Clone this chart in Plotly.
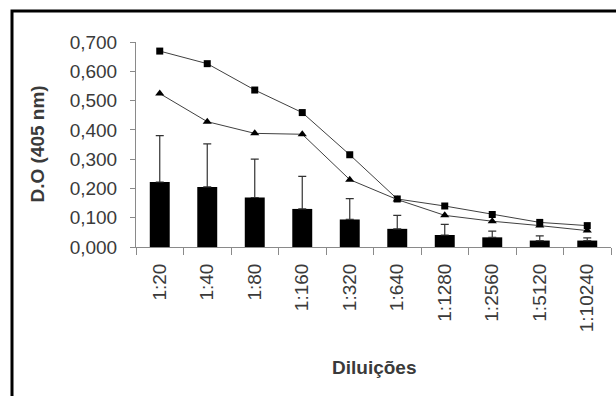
import plotly.graph_objects as go

categories = ["1:20", "1:40", "1:80", "1:160", "1:320", "1:640", "1:1280", "1:2560", "1:5120", "1:10240"]
bar_values = [0.222, 0.205, 0.169, 0.130, 0.094, 0.062, 0.041, 0.033, 0.022, 0.022]
bar_err_top = [0.380, 0.352, 0.300, 0.241, 0.165, 0.108, 0.077, 0.054, 0.038, 0.031]
square_values = [0.669, 0.626, 0.536, 0.459, 0.315, 0.164, 0.140, 0.111, 0.084, 0.073]
triangle_values = [0.524, 0.428, 0.388, 0.385, 0.230, 0.162, 0.108, 0.088, 0.073, 0.056]
y_ticks = [0.0, 0.1, 0.2, 0.3, 0.4, 0.5, 0.6, 0.7]

err_plus = [t - v for t, v in zip(bar_err_top, bar_values)]

FONT = "Liberation Sans, Arial, sans-serif"
TXT = "#3a3a3a"
AX = "#8a8a8a"

fig = go.Figure()
fig.add_trace(go.Bar(
    x=categories, y=bar_values, width=0.42,
    marker=dict(color="black", line=dict(width=0)),
    error_y=dict(type="data", symmetric=False, array=err_plus,
                 arrayminus=[0] * len(err_plus), color="#333333",
                 thickness=1.2, width=4),
    showlegend=False,
))
fig.add_trace(go.Scatter(
    x=categories, y=square_values, mode="lines+markers",
    line=dict(color="#404040", width=1),
    marker=dict(symbol="square", size=7, color="black"),
    showlegend=False,
))
fig.add_trace(go.Scatter(
    x=categories, y=triangle_values, mode="lines+markers",
    line=dict(color="#404040", width=1),
    marker=dict(symbol="triangle-up", size=8, color="black"),
    showlegend=False,
))

fig.update_layout(
    width=616, height=396,
    margin=dict(l=136, r=5, t=42, b=149),
    paper_bgcolor="white", plot_bgcolor="white",
    separators=",.",
    font=dict(family=FONT, color=TXT, size=19),
    xaxis=dict(
        type="category", range=[-0.5, 9.5],
        showline=True, linecolor=AX, linewidth=1,
        ticks="outside", tickson="boundaries", ticklen=7, tickcolor=AX,
        tickangle=-90, tickfont=dict(size=19, color=TXT, family=FONT),
        ticklabelstandoff=8,
        showgrid=False, zeroline=False,
    ),
    yaxis=dict(
        range=[0, 0.7], tickvals=y_ticks, tickformat=".3f",
        showline=True, linecolor=AX, linewidth=1,
        ticks="outside", ticklen=5, tickcolor=AX,
        tickfont=dict(size=19, color=TXT, family=FONT),
        ticklabelstandoff=9,
        showgrid=False, zeroline=False,
    ),
    annotations=[
        dict(text="<b>Diluições</b>", xref="paper", yref="paper",
             x=0.5, y=(247 - 367) / 205, xanchor="center", yanchor="middle",
             showarrow=False, font=dict(size=19, color=TXT, family=FONT)),
        dict(text="<b>D.O (405 nm)</b>", xref="paper", yref="paper",
             x=(37 - 136) / 475, y=0.5, xanchor="center", yanchor="middle",
             textangle=-90, showarrow=False,
             font=dict(size=19, color=TXT, family=FONT)),
    ],
    shapes=[
        dict(type="rect", xref="paper", yref="paper",
             x0=(12 - 136) / 475, x1=(630 - 136) / 475,
             y0=(247 - 420) / 205, y1=(247 - 11) / 205,
             line=dict(color="black", width=3), fillcolor="rgba(0,0,0,0)",
             layer="below"),
    ],
)

fig.write_html(
    "out.html",
    config={"displayModeBar": False},
    post_script="document.body.style.margin='0';document.body.style.overflow='hidden';",
)
